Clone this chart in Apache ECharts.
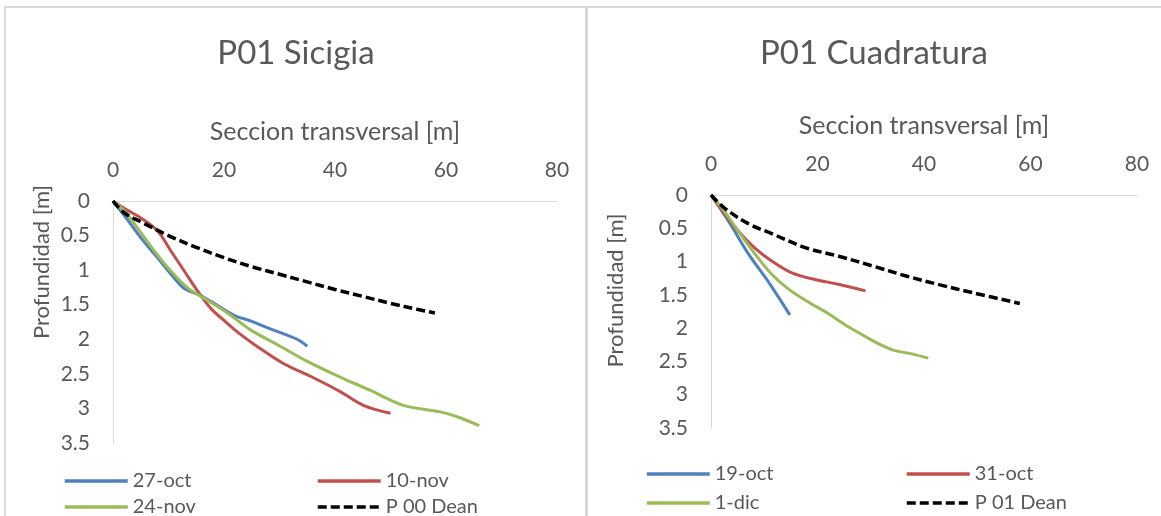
<!DOCTYPE html>
<html>
<head>
<meta charset="utf-8">
<script src="https://cdn.jsdelivr.net/npm/echarts@6/dist/echarts.min.js"></script>
<style>
  html, body { margin: 0; padding: 0; background: #ffffff; }
  #chart { width: 1161px; height: 516px; }
</style>
</head>
<body>
<div id="chart"></div>
<script>
// Beach profiles, point P01: depth [m] against cross-section distance [m]
const xTicks = [0, 20, 40, 60, 80];
const yTicks = [0, 0.5, 1, 1.5, 2, 2.5, 3, 3.5];

// Spring tide (sicigia) surveys
const sicigiaNames = ['27-oct', '10-nov', '24-nov', 'P 00 Dean'];
const oct27 = [[0,0],[2.7,0.28],[5.1,0.54],[8.1,0.83],[11.1,1.12],[12.9,1.27],[15.9,1.37],[19,1.52],[22,1.66],[25,1.74],[28,1.84],[31,1.93],[33.2,2.0],[35,2.1]];
const nov10 = [[0,0],[2.1,0.11],[5.1,0.25],[8.1,0.44],[10.5,0.73],[12.9,1.02],[15.3,1.31],[17.7,1.56],[20.2,1.74],[22.5,1.9],[25.9,2.1],[30.7,2.35],[36.2,2.56],[41,2.76],[45.2,2.96],[50,3.07]];
const nov24 = [[0,0],[2.1,0.15],[4.5,0.4],[7.5,0.73],[10.5,1.02],[13.5,1.26],[16.5,1.41],[19.5,1.56],[21.5,1.67],[24.7,1.86],[30.1,2.1],[35,2.32],[41,2.55],[46.4,2.74],[50,2.88],[53,2.97],[59,3.05],[62,3.12],[66,3.25]];
const dean00 = [[0,0],[2,0.17],[5,0.3],[10,0.5],[15,0.67],[20,0.82],[25,0.95],[30,1.06],[35,1.17],[40,1.28],[45,1.38],[50,1.48],[55,1.57],[58,1.62]];

// Neap tide (cuadratura) surveys
const cuadraturaNames = ['19-oct', '31-oct', '1-dic', 'P 01 Dean'];
const oct19 = [[0,0],[3.5,0.42],[7,0.88],[11,1.33],[14.8,1.8]];
const oct31 = [[0,0],[2.6,0.29],[5.1,0.54],[8.3,0.8],[11.4,0.99],[15.2,1.17],[19.5,1.27],[23.9,1.34],[29,1.44]];
const dic1 = [[0,0],[2,0.19],[5.1,0.54],[8.3,0.89],[11.4,1.19],[14.5,1.41],[17.7,1.58],[22,1.78],[25,1.94],[28,2.08],[31.1,2.22],[34.2,2.33],[37.9,2.39],[40.8,2.45]];
const dean01 = [[0,0],[2.6,0.2],[7,0.43],[11.4,0.58],[17.7,0.79],[24,0.92],[30.5,1.07],[36.8,1.22],[43,1.35],[49.3,1.47],[58,1.63]];

const FONT = 'Lato';
const GREY = '#595959';
const AXIS = '#d9d9d9';
const COLORS = ['#4f81bd', '#c0504d', '#9bbb59', '#000000'];
const DASH = [9, 4];

function xAxisFor(gridIndex) {
  return {
    type: 'value', gridIndex: gridIndex, position: 'top',
    min: xTicks[0], max: xTicks[xTicks.length - 1], interval: xTicks[1] - xTicks[0],
    name: 'Seccion transversal [m]', nameLocation: 'middle', nameGap: 57,
    nameTextStyle: { fontFamily: FONT, fontSize: 25, color: GREY },
    axisLine: { show: true, lineStyle: { color: AXIS, width: 1 } },
    axisTick: { show: false },
    splitLine: { show: false },
    axisLabel: { fontFamily: FONT, fontSize: 21, color: GREY, margin: 20 }
  };
}
// the depth title sits above the middle of the axis; left padding lifts it
function yAxisFor(gridIndex, gap, lift) {
  return {
    type: 'value', gridIndex: gridIndex, inverse: true,
    min: yTicks[0], max: yTicks[yTicks.length - 1], interval: yTicks[1] - yTicks[0],
    name: 'Profundidad [m]', nameLocation: 'middle', nameGap: gap, nameRotate: 90,
    nameTextStyle: { fontFamily: FONT, fontSize: 22, color: GREY, padding: [0, 0, 0, lift * 2] },
    axisLine: { show: true, lineStyle: { color: AXIS, width: 1 } },
    axisTick: { show: false },
    splitLine: { show: false },
    axisLabel: { fontFamily: FONT, fontSize: 21, color: GREY, margin: 23 }
  };
}
function lineSeries(name, data, color, idx, dashed) {
  return {
    type: 'line', name: name, data: data,
    xAxisIndex: idx, yAxisIndex: idx,
    symbol: 'none', smooth: 0.35,
    lineStyle: dashed
      ? { color: color, width: 3.5, type: DASH }
      : { color: color, width: 3 },
    itemStyle: { color: color }
  };
}
// one legend entry per component so the two-column layout is fixed
function legendItem(name, left, top, dashed) {
  return {
    data: [name], left: left, top: top,
    itemWidth: 63, itemHeight: 14, itemGap: 0,
    itemStyle: { opacity: 0 },
    lineStyle: dashed ? { width: 3.5, type: DASH } : { width: 3.5, type: 'solid' },
    textStyle: { fontFamily: FONT, fontSize: 20, color: GREY, lineHeight: 22 }
  };
}

const chart = echarts.init(document.getElementById('chart'));
chart.setOption({
  backgroundColor: '#ffffff',
  animation: false,
  title: [
    { text: 'P01 Sicigia', left: 291, top: 32, textAlign: 'center',
      textStyle: { fontFamily: FONT, fontSize: 33, fontWeight: 'normal', color: GREY } },
    { text: 'P01 Cuadratura', left: 869, top: 32, textAlign: 'center',
      textStyle: { fontFamily: FONT, fontSize: 33, fontWeight: 'normal', color: GREY } }
  ],
  graphic: [
    { type: 'rect', shape: { x: 5, y: 7, width: 581, height: 530 },
      style: { fill: 'none', stroke: AXIS, lineWidth: 2 }, silent: true },
    { type: 'rect', shape: { x: 587, y: 7, width: 600, height: 530 },
      style: { fill: 'none', stroke: AXIS, lineWidth: 2 }, silent: true }
  ],
  grid: [
    { left: 113, top: 201, width: 444, height: 242, outerBoundsMode: 'none' },
    { left: 711, top: 195, width: 426, height: 233, outerBoundsMode: 'none' }
  ],
  xAxis: [xAxisFor(0), xAxisFor(1)],
  yAxis: [yAxisFor(0, 60, 60), yAxisFor(1, 84, 21)],
  legend: [
    legendItem(sicigiaNames[0], 58, 465, false),
    legendItem(sicigiaNames[1], 311, 465, false),
    legendItem(sicigiaNames[2], 58, 491, false),
    legendItem(sicigiaNames[3], 311, 491, true),
    legendItem(cuadraturaNames[0], 640, 458, false),
    legendItem(cuadraturaNames[1], 900, 458, false),
    legendItem(cuadraturaNames[2], 640, 487, false),
    legendItem(cuadraturaNames[3], 900, 487, true)
  ],
  series: [
    lineSeries(sicigiaNames[0], oct27, COLORS[0], 0, false),
    lineSeries(sicigiaNames[1], nov10, COLORS[1], 0, false),
    lineSeries(sicigiaNames[2], nov24, COLORS[2], 0, false),
    lineSeries(sicigiaNames[3], dean00, COLORS[3], 0, true),
    lineSeries(cuadraturaNames[0], oct19, COLORS[0], 1, false),
    lineSeries(cuadraturaNames[1], oct31, COLORS[1], 1, false),
    lineSeries(cuadraturaNames[2], dic1, COLORS[2], 1, false),
    lineSeries(cuadraturaNames[3], dean01, COLORS[3], 1, true)
  ]
});
</script>
</body>
</html>
